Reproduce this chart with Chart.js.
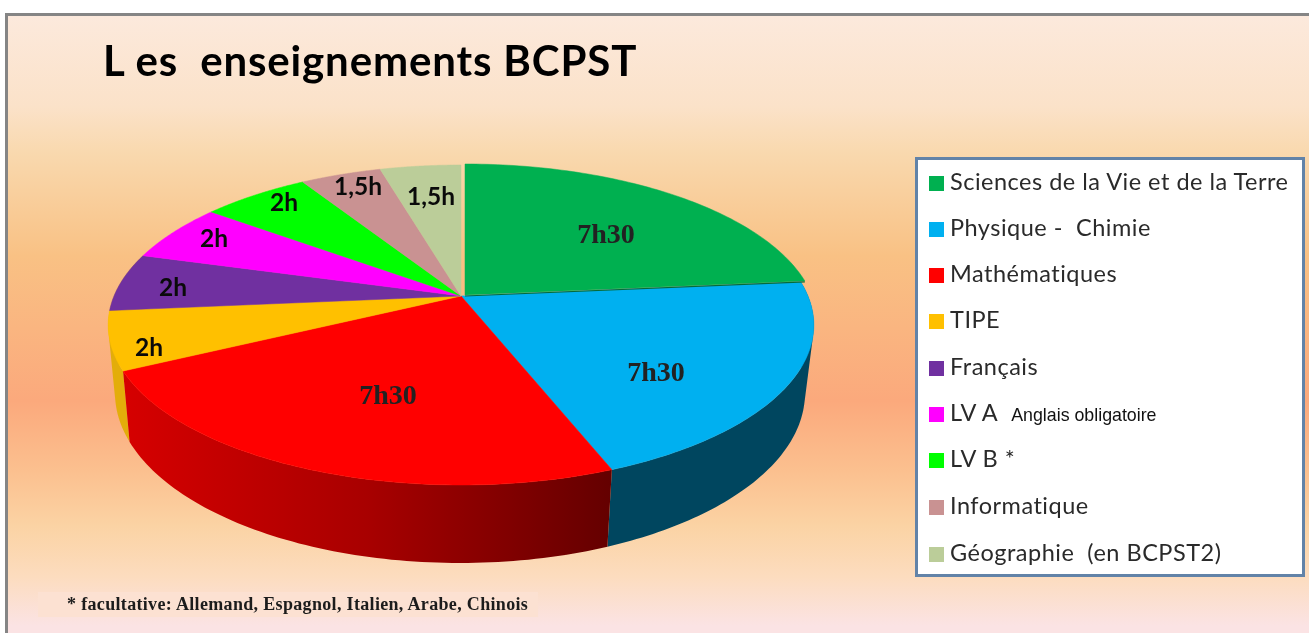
<!DOCTYPE html>
<html>
<head>
<meta charset="utf-8">
<title>Les enseignements BCPST</title>
<script src="https://cdn.jsdelivr.net/npm/chart.js@4"></script>
<style>
  html, body { margin: 0; padding: 0; background: #fff; overflow: hidden; }
  #page { position: absolute; left: 5px; top: 13px; width: 1304px; height: 620px; box-sizing: border-box;
    border-left: 3px solid #858585; border-top: 3px solid #858585;
    background: linear-gradient(to bottom, #fce9dc 0px, #fbe2c9 90px, #f9d9af 135px, #f9c184 240px, #fba97c 385px, #fbc08f 455px, #fbd3a4 510px, #fcdcbe 560px, #fbe3e4 610px); }
  canvas { position: absolute; left: 0; top: 0; filter: blur(0.4px); }
  #title { position: absolute; left: 103px; top: 35px; font: bold 42px Lato, sans-serif; letter-spacing: 0.85px; color: #000; white-space: pre; filter: blur(0.4px); }
  #legend { position: absolute; left: 915px; top: 157px; width: 390px; height: 420px; box-sizing: border-box;
    background: #fff; border: 3px solid #6283a8; filter: blur(0.4px); }
  .row { position: absolute; left: 11px; height: 30px; font: 23.5px/30px Lato, sans-serif; color: #2a2a2a; white-space: pre; letter-spacing: 0.5px; }
  .row i { display: inline-block; width: 15px; height: 15px; margin-right: 6px; vertical-align: -1px; }
  .row small { font: 17.8px Arial, "Liberation Sans", sans-serif; letter-spacing: 0; color: #111; margin-left: 13px; }
  #note { position: absolute; left: 38px; top: 592px; width: 500px; height: 25px; background: #fce1d2; }
  #noteText { position: absolute; left: 67px; top: 594px; font: bold 18px "Liberation Serif", serif; color: #1c1c1c; white-space: pre; letter-spacing: 0.33px; filter: blur(0.3px); }
</style>
</head>
<body>
<div id="page"></div>
<div id="note"></div>
<canvas id="pie3d" width="1309" height="633"></canvas>
<div id="noteText">* facultative: Allemand, Espagnol, Italien, Arabe, Chinois</div>
<div id="title">L es  enseignements BCPST</div>
<div id="legend"></div>
<script>
var subjects = ['Sciences de la Vie et de la Terre', 'Physique -  Chimie', 'Mathématiques', 'TIPE', 'Français', 'LV A', 'LV B *', 'Informatique', 'Géographie  (en BCPST2)'];
var notes = ['', '', '', '', '', 'Anglais obligatoire', '', '', ''];
// slice sizes as drawn in the picture (hours)
var hours = [8, 7, 8, 2, 2, 2, 2, 1.5, 1.5];
var hourLabels = ['7h30', '7h30', '7h30', '2h', '2h', '2h', '2h', '1,5h', '1,5h'];

var topColors = ['#00b050', '#00b0f0', '#ff0000', '#ffc000', '#7030a0', '#ff00ff', '#00ff00', '#c99292', '#bbcd99'];
var labelSpots = [[606, 236], [656, 374], [388, 397], [149, 348], [173, 288], [214, 239], [284, 203], [358, 187], [431, 197]];
var legendRows = [167, 213, 259, 305, 352, 398, 444, 491, 538];

// perspective of the disc top: unit circle -> screen
var apexX = 461, apexY = 296, discR = 347, persp = -0.18125, lift = 101.1;
// ellipses of the top rim and of the bottom rim
var topEll = { x: 461, y: 325, rx: 353, ry: 160 };
var lowEll = { x: 460, y: 393, rx: 345, ry: 170 };

function project(angle) {
  // chart.js angle 0 points right, same as screen
  var u = Math.cos(angle), v = Math.sin(angle);
  var w = 1 + persp * v;
  return { x: apexX + discR * u / w, y: (lift * v + apexY) / w };
}

function lowerOf(p) {
  var phi = Math.atan2((p.y - topEll.y) / topEll.ry, (p.x - topEll.x) / topEll.rx);
  return { x: lowEll.x + lowEll.rx * Math.cos(phi), y: lowEll.y + lowEll.ry * Math.sin(phi) };
}

function rim(start, end) {
  var pts = [], n = 80;
  for (var i = 0; i <= n; i++) pts.push(project(start + (end - start) * i / n));
  return pts;
}

function addTriangle(ctx, a, b, c) {
  // same winding for every triangle, so the nonzero fill gives their union
  var area = (b.x - a.x) * (c.y - a.y) - (c.x - a.x) * (b.y - a.y);
  var m = area < 0 ? c : b, n = area < 0 ? b : c;
  ctx.moveTo(a.x, a.y);
  ctx.lineTo(m.x, m.y);
  ctx.lineTo(n.x, n.y);
  ctx.closePath();
}

function fillWall(ctx, start, end, color) {
  // everything in one path: no seams, and the silhouette between both rims gets filled
  var up = rim(start, end);
  ctx.beginPath();
  for (var i = 0; i < up.length - 1; i++) {
    var a = up[i], b = up[i + 1], c = lowerOf(b), d = lowerOf(a);
    addTriangle(ctx, a, b, c);
    addTriangle(ctx, a, c, d);
  }
  ctx.fillStyle = color;
  ctx.fill();
}

var disc3d = {
  id: 'disc3d',
  beforeDatasetsDraw: function(chart) {
    var ctx = chart.ctx;
    var arcs = chart.getDatasetMeta(0).data;
    ctx.save();

    // side walls
    var redWall = ctx.createLinearGradient(123, 0, 611, 0);
    redWall.addColorStop(0, '#d60000');
    redWall.addColorStop(0.5, '#a80000');
    redWall.addColorStop(1, '#640000');
    fillWall(ctx, arcs[3].startAngle, arcs[4].endAngle, '#e3ad0a');
    fillWall(ctx, arcs[1].startAngle, arcs[1].endAngle, '#00465f');
    fillWall(ctx, arcs[2].startAngle, arcs[2].endAngle, redWall);

    // top faces
    arcs.forEach(function(arc, i) {
      var dx = i === 0 ? 4 : 0, dy = i === 0 ? -1 : 0;
      var pts = rim(arc.startAngle, arc.endAngle);
      ctx.beginPath();
      ctx.moveTo(apexX + dx, apexY + dy);
      pts.forEach(function(p) { ctx.lineTo(p.x + dx, p.y + dy); });
      ctx.closePath();
      ctx.fillStyle = topColors[i];
      ctx.fill();
      ctx.strokeStyle = topColors[i];
      ctx.lineWidth = 0.5;
      ctx.stroke();
    });

    // dark edge under the green slice
    var e = project(arcs[0].endAngle);
    ctx.beginPath();
    ctx.moveTo(apexX + 4, apexY);
    ctx.lineTo(e.x + 4, e.y);
    ctx.strokeStyle = '#056b3a';
    ctx.lineWidth = 1.2;
    ctx.stroke();

    // hour labels
    ctx.textAlign = 'center';
    ctx.textBaseline = 'middle';
    hourLabels.forEach(function(txt, i) {
      var big = i < 3;
      ctx.font = big ? 'bold 28px "Liberation Serif", serif' : 'bold 24.5px Lato, sans-serif';
      ctx.fillStyle = big ? '#222' : '#0a0a0a';
      ctx.fillText(txt, labelSpots[i][0], labelSpots[i][1]);
    });
    ctx.restore();
    return false;
  }
};

function initLegend() {
  var box = document.getElementById('legend');
  subjects.forEach(function(name, i) {
    var row = document.createElement('div');
    row.className = 'row';
    row.style.top = (legendRows[i] - 157 - 3 - 1) + 'px';
    row.innerHTML = '<i style="background:' + topColors[i] + '"></i>' + name + (notes[i] ? '<small>' + notes[i] + '</small>' : '');
    box.appendChild(row);
  });
}

function initChart() {
  new Chart(document.getElementById('pie3d').getContext('2d'), {
    type: 'pie',
    data: {
      labels: subjects,
      datasets: [{ data: hours, backgroundColor: topColors, borderWidth: 0 }]
    },
    options: {
      responsive: false,
      animation: false,
      plugins: { legend: { display: false }, tooltip: { enabled: false } }
    },
    plugins: [disc3d]
  });
}

initLegend();
initChart();
</script>
</body>
</html>
